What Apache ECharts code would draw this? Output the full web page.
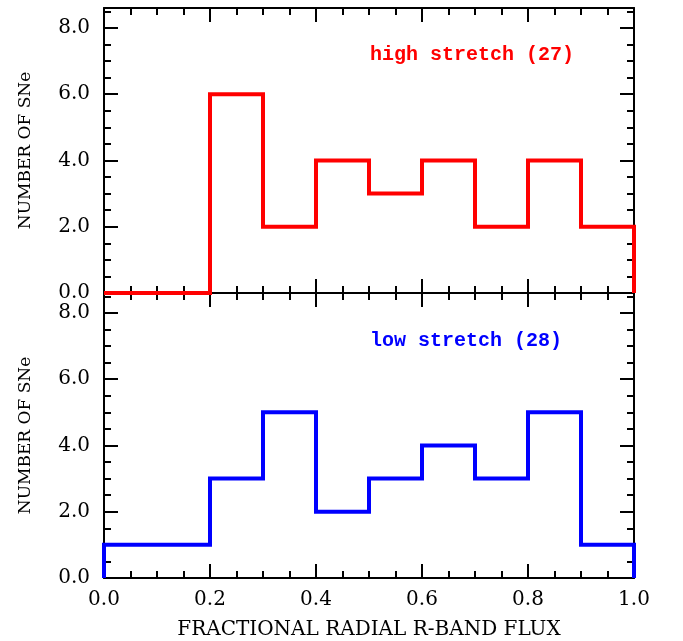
<!DOCTYPE html>
<html>
<head>
<meta charset="utf-8">
<script src="https://cdn.jsdelivr.net/npm/echarts@6/dist/echarts.min.js"></script>
<style>
	html, body { margin: 0; padding: 0; background: #fff; }
	#chart { width: 683px; height: 641px; }
</style>
</head>
<body>
<div id="chart"></div>
<script>
	// bin edges (left side) and counts per bin
	var binEdges = [0.0, 0.1, 0.2, 0.3, 0.4, 0.5, 0.6, 0.7, 0.8, 0.9];
	var binWidth = 0.1;
	var highCounts = [0, 0, 6, 2, 4, 3, 4, 2, 4, 2];
	var lowCounts = [1, 1, 3, 5, 2, 3, 4, 3, 5, 1];
	var highLabel = 'high stretch (27)';
	var lowLabel = 'low stretch (28)';
	var xTitle = 'FRACTIONAL RADIAL R-BAND FLUX';
	var yTitle = 'NUMBER OF SNe';

	// histogram outline: go up at the first edge, step along the bins, drop at the last edge
	function stepData(counts) {
		var pts = [[binEdges[0], 0]];
		for (var i = 0; i < counts.length; i++) {
			pts.push([binEdges[i], counts[i]]);
		}
		var last = binEdges[binEdges.length - 1] + binWidth;
		pts.push([last, counts[counts.length - 1]]);
		pts.push([last, 0]);
		return pts;
	}

	var tickFont = 'DejaVu Serif';
	var lineW = 2;

	function xAxisCfg(grid, pos, showLabel, name) {
		return {
			type: 'value', gridIndex: grid, position: pos,
			min: 0, max: 1, interval: 0.2,
			name: name || '', nameLocation: 'middle', nameGap: 42,
			nameTextStyle: {color: '#000', fontFamily: tickFont, fontSize: 20},
			axisLine: {show: true, onZero: false, lineStyle: {color: '#000', width: lineW}},
			axisTick: {show: true, inside: true, length: 14, lineStyle: {color: '#000', width: lineW}},
			minorTick: {show: true, splitNumber: 4, length: 7, lineStyle: {color: '#000', width: lineW}},
			axisLabel: {show: showLabel, color: '#000', fontFamily: tickFont, fontSize: 20, margin: 12,
				formatter: function (v) { return v.toFixed(1); }},
			splitLine: {show: false}
		};
	}
	function yAxisCfg(grid, pos, showLabel, name) {
		return {
			type: 'value', gridIndex: grid, position: pos,
			min: 0, max: 8.6, interval: 2,
			name: name || '', nameLocation: 'middle', nameGap: 70, nameRotate: 90,
			nameTextStyle: {color: '#000', fontFamily: tickFont, fontSize: 17},
			axisLine: {show: true, onZero: false, lineStyle: {color: '#000', width: lineW}},
			axisTick: {show: true, inside: true, length: 14, lineStyle: {color: '#000', width: lineW}},
			minorTick: {show: true, splitNumber: 4, length: 7, lineStyle: {color: '#000', width: lineW}},
			axisLabel: {show: showLabel, showMaxLabel: false, color: '#000', fontFamily: tickFont, fontSize: 20, margin: 14,
				formatter: function (v) { return v.toFixed(1); }},
			splitLine: {show: false}
		};
	}

	var myChart = echarts.init(document.getElementById('chart'), null, {renderer: 'canvas'});
	var option = {
		backgroundColor: '#fff',
		animation: false,
		grid: [
			{left: 104, right: 49, top: 8, height: 285, outerBoundsMode: 'none', containLabel: false},
			{left: 104, right: 49, top: 293, height: 285, outerBoundsMode: 'none', containLabel: false}
		],
		xAxis: [
			xAxisCfg(0, 'bottom', false),
			xAxisCfg(0, 'top', false),
			xAxisCfg(1, 'bottom', true, xTitle),
			xAxisCfg(1, 'top', false)
		],
		yAxis: [
			yAxisCfg(0, 'left', true, yTitle),
			yAxisCfg(0, 'right', false),
			yAxisCfg(1, 'left', true, yTitle),
			yAxisCfg(1, 'right', false)
		],
		graphic: [
			{type: 'text', left: 370, top: 45, style: {text: highLabel, fill: '#ff0000',
				font: 'bold 20px "Liberation Mono"'}},
			{type: 'text', left: 370, top: 331, style: {text: lowLabel, fill: '#0000ff',
				font: 'bold 20px "Liberation Mono"'}}
		],
		series: [
			{
				name: 'high', type: 'line', step: 'end', xAxisIndex: 0, yAxisIndex: 0,
				data: stepData(highCounts), showSymbol: false, symbol: 'none', z: 5,
				lineStyle: {color: '#ff0000', width: 4, join: 'miter'}
			},
			{
				name: 'low', type: 'line', step: 'end', xAxisIndex: 2, yAxisIndex: 2,
				data: stepData(lowCounts), showSymbol: false, symbol: 'none', z: 5,
				lineStyle: {color: '#0000ff', width: 4, join: 'miter'}
			}
		]
	};
	myChart.setOption(option);
</script>
</body>
</html>
